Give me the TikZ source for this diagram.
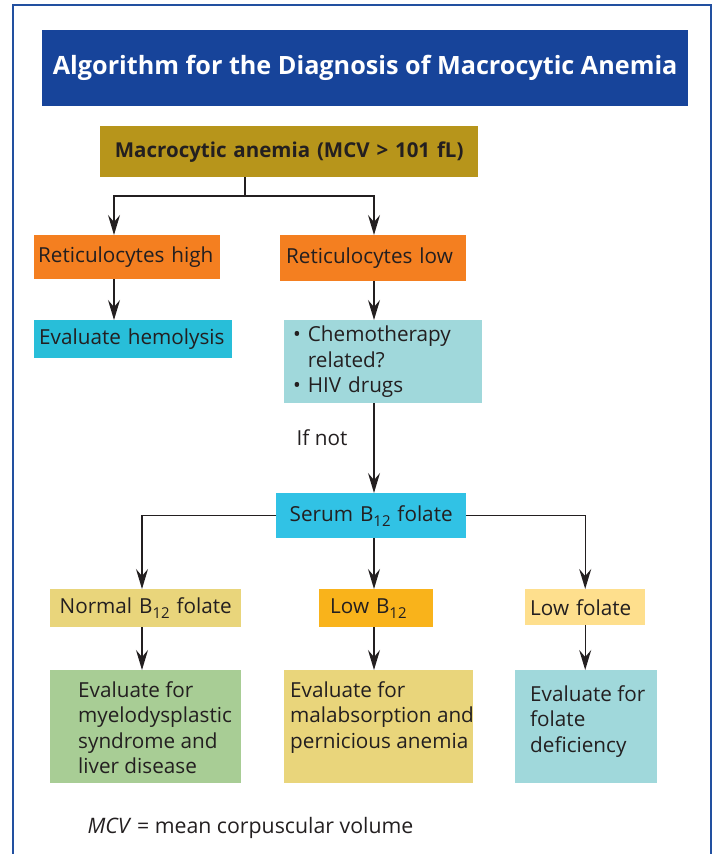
\documentclass[tikz,border=0pt]{standalone}
\usepackage{fontspec}
\setmainfont{Open Sans}
\usetikzlibrary{arrows.meta,positioning}

\definecolor{frameblue}{HTML}{2250A0}
\definecolor{titleblue}{HTML}{17449A}
\definecolor{ink}{HTML}{231F20}
\definecolor{olive}{HTML}{B7951B}
\definecolor{retic}{HTML}{F47F20}
\definecolor{cyanbox}{HTML}{28BED9}
\definecolor{serumcyan}{HTML}{31C2E5}
\definecolor{tealbox}{HTML}{A0D8DB}
\definecolor{sandbox}{HTML}{E9D57B}
\definecolor{amberbox}{HTML}{F9B31B}
\definecolor{palebox}{HTML}{FEDF8D}
\definecolor{greenbox}{HTML}{A8CD95}

% top aligned text block for the bottom boxes (lines never wrap)
\newcommand{\evaltext}[3]{\parbox[c][#2][t]{#1}{\begin{tabular}[t]{@{}l@{}}#3\end{tabular}}}
% B-twelve with a low, large subscript
\newcommand{\btwelve}{B\raisebox{-5pt}{\fontsize{15}{15}\selectfont 12}}

\tikzset{
  box/.style={anchor=north west, inner ysep=0pt, text=ink, align=left,
    font=\fontsize{20.7}{25.5}\selectfont},
  line/.style={draw=ink, line width=1.4pt},
  arr/.style={line, -{Stealth[length=20pt,width=12pt,inset=7pt]}},
}

\begin{document}
\begin{tikzpicture}[x=1pt,y=-1pt]
\useasboundingbox (0,0) rectangle (715,854);
% frame and title
\draw[frameblue, line width=2pt] (13,854) -- (13,5) -- (711,5) -- (711,854);
\node[anchor=north west, fill=titleblue, text=white, minimum width=646pt, minimum height=76pt,
  inner sep=0pt, font=\fontsize{25.2}{30}\selectfont\bfseries] (title) at (42,30)
  {Algorithm for the Diagnosis of Macrocytic Anemia};

% first level
\node[box, fill=olive, minimum height=51pt, text width=378pt, inner xsep=0pt, align=center,
  font=\fontsize{20.5}{25}\selectfont\bfseries] (top) at (100,126) {Macrocytic anemia (MCV > 101 fL)};
\node[box, fill=retic, minimum height=44pt, text width=178pt, inner xsep=4pt] (rhigh) at (34,235) {Reticulocytes high};
\node[box, fill=retic, minimum height=46pt, text width=174pt, inner xsep=6pt] (rlow) at (280,235) {Reticulocytes low};
\node[box, fill=cyanbox, minimum height=38pt, text width=188pt, inner xsep=5pt] (hemo) at (34,320) {Evaluate hemolysis};
\node[box, fill=tealbox, minimum height=83pt, text width=180pt, inner xsep=9pt] (chemo) at (284,320)
  {\textbullet\ Chemotherapy\\\phantom{\textbullet\ }related?\\\textbullet\ HIV drugs};
\node[text=ink, font=\fontsize{20.7}{24}\selectfont] (ifnot) at (322,438) {If not};

% second level
\node[box, fill=serumcyan, minimum height=45pt, text width=190pt, inner xsep=0pt, align=center] (serum) at (276,493)
  {Serum \btwelve\ folate};
\node[box, fill=sandbox, minimum height=38pt, text width=191pt, inner xsep=0pt, align=center] (normal) at (50,589)
  {Normal \btwelve\ folate};
\node[box, fill=amberbox, minimum height=38pt, text width=92pt, inner xsep=11pt] (lowb) at (319,589)
  {Low \btwelve};
\node[box, fill=palebox, minimum height=36pt, text width=110pt, inner xsep=5pt] (lowf) at (525,589) {Low folate};

% bottom boxes
\node[box, fill=greenbox, inner xsep=28pt, inner ysep=9pt] (evm) at (50,670)
  {\evaltext{135pt}{95pt}{Evaluate for\\myelodysplastic\\syndrome and\\liver disease}};
\node[box, fill=sandbox, inner xsep=6pt, inner ysep=9pt] (evp) at (284,670)
  {\evaltext{177pt}{95pt}{Evaluate for\\malabsorption and\\pernicious anemia}};
\node[box, fill=tealbox, inner xsep=15pt, inner ysep=13pt] (evf) at (515,670)
  {\evaltext{112pt}{87pt}{Evaluate for\\folate\\deficiency}};

\node[anchor=west, text=ink, font=\fontsize{21.3}{24}\selectfont] (note) at (84,828)
  {\textit{MCV} = mean corpuscular volume};

% connectors
\coordinate (split) at (245,196);
\coordinate (lx) at (114,0);
\coordinate (mx) at (374,0);
\coordinate (sx) at (142,0);
\draw[line] (split |- top.south) -- (split);
\draw[arr] (split) -| (lx |- rhigh.north);
\draw[arr] (split) -| (mx |- rlow.north);
\draw[arr] (lx |- rhigh.south) -- (lx |- hemo.north);
\draw[arr] (mx |- rlow.south) -- (mx |- chemo.north);
\draw[arr] (mx |- chemo.south) -- (mx |- serum.north);
\draw[arr] (serum.west) -| (sx |- normal.north);
\draw[arr] (serum.east) -| (lowf.north);
\draw[arr] (mx |- serum.south) -- (mx |- lowb.north);
\draw[arr] (sx |- normal.south) -- (sx |- evm.north);
\draw[arr] (mx |- lowb.south) -- (mx |- evp.north);
\draw[arr] (lowf.south) -- (lowf.south |- evf.north);
\end{tikzpicture}
\end{document}
